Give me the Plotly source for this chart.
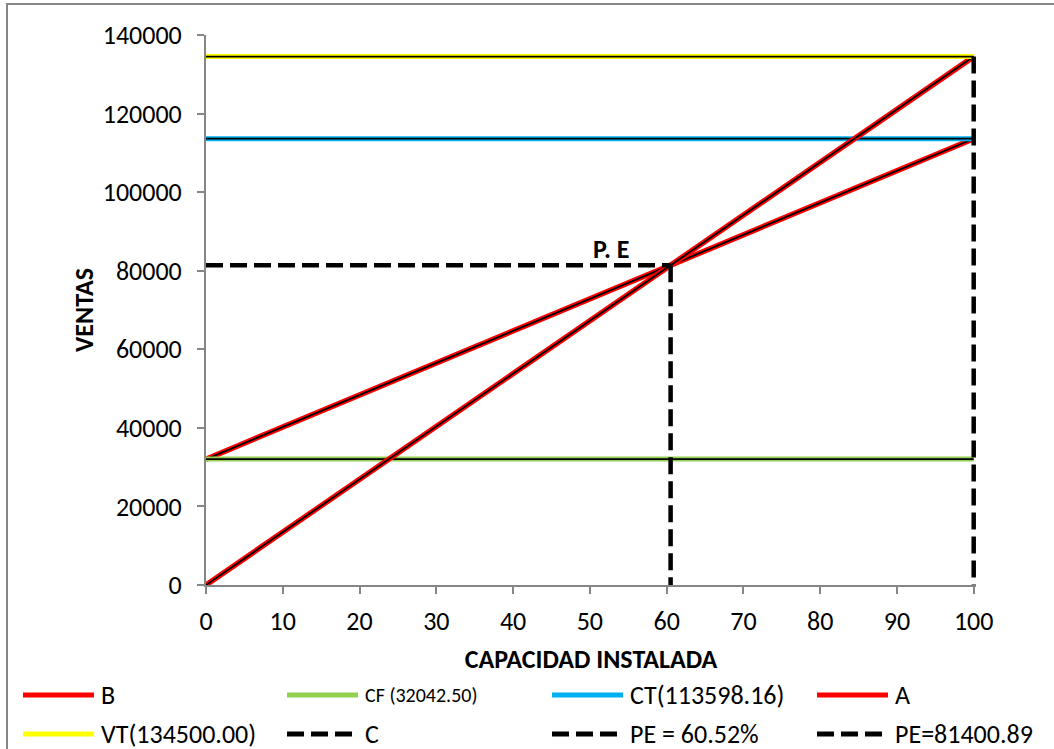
import plotly.graph_objects as go

# Break-even chart: sales vs installed capacity (%)
capacity = [0, 100]
ventas_totales = 134500.00      # VT
costo_fijo = 32042.50           # CF
costo_total = 113598.16         # CT
pe_pct = 60.52                  # break-even capacity (%)
pe_ventas = 81400.89            # break-even sales

line_a = [0, ventas_totales]            # A: income line
line_b = [costo_fijo, costo_total]      # B: total cost line

x_ticks = [0, 10, 20, 30, 40, 50, 60, 70, 80, 90, 100]
y_ticks = [0, 20000, 40000, 60000, 80000, 100000, 120000, 140000]

legend_names = ["B", "CF (32042.50)", "CT(113598.16)", "A",
                "VT(134500.00)", "C", "PE = 60.52%", "PE=81400.89"]
legend_colors = ["#FF0000", "#92D050", "#00B0F0", "#FF0000",
                 "#FFFF00", "#000000", "#000000", "#000000"]
legend_dashed = [False, False, False, False, False, True, True, True]

FONT = "Carlito, Calibri, Lato, sans-serif"
RED, GREEN, BLUE, YELLOW = "#FF0000", "#92D050", "#00B0F0", "#FFFF00"
AXIS_GREY = "#868686"

# plot-area geometry (pixels) used for placing items outside the axes
W, H = 1054, 749
L, R, T, B = 206, 78, 35, 164
PW, PH = W - L - R, H - T - B


def px_x(px):
    return (px - L) / PW


def px_y(py):
    return (H - B - py) / PH


fig = go.Figure()


def cased_line(x, y, color, width):
    """Coloured line with a thin black core."""
    fig.add_trace(go.Scatter(x=x, y=y, mode="lines", showlegend=False,
                             line=dict(color=color, width=width), hoverinfo="skip"))
    fig.add_trace(go.Scatter(x=x, y=y, mode="lines", showlegend=False,
                             line=dict(color="black", width=1.8), hoverinfo="skip"))


cased_line(capacity, line_b, RED, 5.5)
cased_line(capacity, [costo_fijo, costo_fijo], GREEN, 5)
cased_line(capacity, [costo_total, costo_total], BLUE, 5)
cased_line(capacity, line_a, RED, 5.5)
cased_line(capacity, [ventas_totales, ventas_totales], YELLOW, 5)

dash = dict(color="black", width=4.5, dash="17px,7px")
# C: full-capacity vertical (drawn top-down so the dash pattern starts at VT)
fig.add_trace(go.Scatter(x=[100, 100], y=[ventas_totales, 0], mode="lines",
                         showlegend=False, line=dash))
# PE = 60.52%: vertical at break-even capacity
fig.add_trace(go.Scatter(x=[pe_pct, pe_pct], y=[pe_ventas, 0], mode="lines",
                         showlegend=False, line=dash))
# PE = 81400.89: horizontal at break-even sales
fig.add_trace(go.Scatter(x=[0, pe_pct], y=[pe_ventas, pe_ventas], mode="lines",
                         showlegend=False, line=dash))

shapes = []
annotations = []

# break-even label
annotations.append(dict(x=pe_pct, y=pe_ventas, xref="x", yref="y", text="<b>P. E</b>",
                        showarrow=False, xanchor="center", yanchor="middle",
                        xshift=-60, yshift=16, font=dict(family=FONT, size=26, color="black")))

# legend: 4 columns x 2 rows
col_x = [23, 287, 552, 817]
row_y = [695, 734]
sample_len = 71
for i, name in enumerate(legend_names):
    cx = col_x[i % 4]
    cy = row_y[i // 4]
    if legend_dashed[i]:
        for k in range(3):
            x0 = cx + k * 24
            shapes.append(dict(type="line", xref="paper", yref="paper",
                               x0=px_x(x0), x1=px_x(x0 + 17), y0=px_y(cy), y1=px_y(cy),
                               line=dict(color="black", width=5)))
    else:
        shapes.append(dict(type="line", xref="paper", yref="paper",
                           x0=px_x(cx), x1=px_x(cx + sample_len), y0=px_y(cy), y1=px_y(cy),
                           line=dict(color=legend_colors[i], width=5)))
    size = 20 if name.startswith("CF") else 26
    annotations.append(dict(x=px_x(cx + sample_len + 5), y=px_y(cy), xref="paper", yref="paper",
                            text=name, showarrow=False, xanchor="left", yanchor="middle",
                            font=dict(family=FONT, size=size, color="black")))

# chart frame
shapes.append(dict(type="rect", xref="paper", yref="paper",
                   x0=px_x(7), x1=px_x(W + 20), y0=px_y(4), y1=px_y(H + 20),
                   line=dict(color=AXIS_GREY, width=2), fillcolor="rgba(0,0,0,0)", layer="below"))

fig.update_layout(
    width=W, height=H,
    margin=dict(l=L, r=R, t=T, b=B),
    paper_bgcolor="white", plot_bgcolor="white",
    font=dict(family=FONT, size=26, color="black"),
    showlegend=False,
    shapes=shapes,
    annotations=annotations,
    xaxis=dict(range=[0, 100.3], tickvals=x_ticks, showgrid=False, zeroline=False,
               showline=True, linecolor=AXIS_GREY, linewidth=2,
               ticks="outside", ticklen=7, tickcolor=AXIS_GREY, tickwidth=2,
               ticklabelstandoff=5,
               tickfont=dict(family=FONT, size=26),
               title=dict(text="<b>CAPACIDAD INSTALADA</b>", standoff=14,
                          font=dict(family=FONT, size=26))),
    yaxis=dict(range=[0, 140000], tickvals=y_ticks, tickformat="d", showgrid=False,
               zeroline=False, showline=True, linecolor=AXIS_GREY, linewidth=2,
               ticks="outside", ticklen=7, tickcolor=AXIS_GREY, tickwidth=2,
               ticklabelstandoff=10,
               tickfont=dict(family=FONT, size=26),
               title=dict(text="<b>VENTAS</b>", standoff=2,
                          font=dict(family=FONT, size=26))),
)

fig.write_html("out.html")
